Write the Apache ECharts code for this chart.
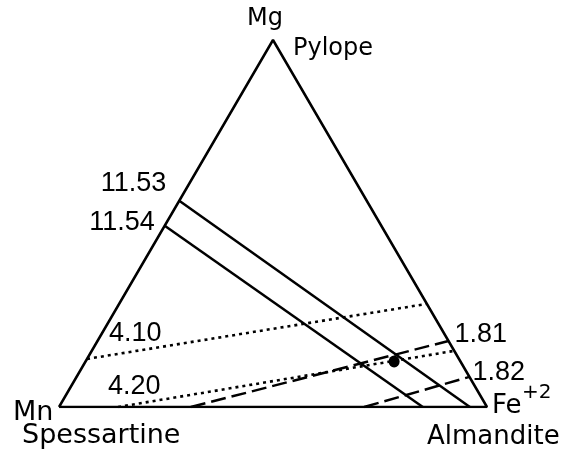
<!DOCTYPE html>
<html>
<head>
<meta charset="utf-8">
<script src="https://cdn.jsdelivr.net/npm/echarts@6/dist/echarts.min.js"></script>
<style>
  html, body { margin: 0; padding: 0; background: #fff; }
  #chart { width: 575px; height: 456px; }
</style>
</head>
<body>
<div id="chart"></div>
<script>
// Garnet end-member ternary diagram: Mg (pyrope) top, Mn (spessartine) left, Fe2+ (almandite) right.
// Compositions are stored as [Mg, Fe] mole fractions; Mn = 1 - Mg - Fe.
const vertexPoints = [[0, 0], [0, 1], [1, 0]];          // Mn, Fe, Mg corners
const solidValues = ['11.53', '11.54'];
const solidFrom = [[0.562, 0], [0.494, 0]];
const solidTo = [[0, 0.960], [0, 0.850]];
const dottedValues = ['4.10', '4.20'];
const dottedFrom = [[0.131, 0], [0, 0.138]];
const dottedTo = [[0.281, 0.719], [0.153, 0.847]];
const dashedValues = ['1.81', '1.82'];
const dashedFrom = [[0, 0.308], [0, 0.713]];
const dashedTo = [[0.180, 0.820], [0.082, 0.918]];
const samplePoint = [0.124, 0.721];

// ternary [Mg, Fe] -> cartesian [x, y] on a unit-base triangle
function toXY(p) { return [p[1] + p[0] / 2, p[0]]; }

const INK = '#000';
const NUM_FONT = '"Liberation Sans", sans-serif';
const TXT_FONT = '"DejaVu Sans", sans-serif';

const series = [];

// triangle outline
series.push({
  type: 'line', silent: true, symbol: 'none',
  lineStyle: { color: INK, width: 2.5 },
  data: [vertexPoints[0], vertexPoints[1], vertexPoints[2], vertexPoints[0]].map(toXY)
});

function addLines(from, to, style) {
  from.forEach((p, i) => {
    series.push({
      type: 'line', silent: true, symbol: 'none',
      lineStyle: Object.assign({ color: INK, width: 2.5 }, style),
      data: [toXY(p), toXY(to[i])]
    });
  });
}
addLines(solidFrom, solidTo, { type: 'solid' });
addLines(dottedFrom, dottedTo, { type: [3, 4], width: 2.6 });
addLines(dashedFrom, dashedTo, { type: [15, 6], width: 2.5 });

// value labels at the ends of the lines
const labelOffsets = {
  '11.53': { pos: [-13, -17], align: 'right' },
  '11.54': { pos: [-10, -3], align: 'right' },
  '4.10': { pos: [22, -25], align: 'left' },
  '4.20': { pos: [-10, -20], align: 'left' },
  '1.81': { pos: [6, -6], align: 'left' },
  '1.82': { pos: [3, -4], align: 'left' }
};
const labelData = [];
solidValues.forEach((v, i) => labelData.push({ v, p: solidFrom[i] }));
dottedValues.forEach((v, i) => labelData.push({ v, p: dottedFrom[i] }));
dashedValues.forEach((v, i) => labelData.push({ v, p: dashedTo[i] }));

series.push({
  type: 'scatter', silent: true, symbolSize: 0,
  itemStyle: { opacity: 1 },
  data: labelData.map(d => ({
    value: toXY(d.p),
    label: {
      show: true, formatter: d.v,
      position: labelOffsets[d.v].pos,
      align: labelOffsets[d.v].align,
      verticalAlign: 'middle',
      color: INK, fontFamily: NUM_FONT, fontSize: 27
    }
  }))
});

// analysed garnet composition
series.push({
  type: 'scatter', silent: true, symbol: 'circle', symbolSize: [11, 12],
  itemStyle: { color: INK, opacity: 1 },
  data: [toXY(samplePoint)]
});

function txt(text, x, y, size, align) {
  return {
    type: 'text', silent: true,
    style: {
      text, x, y, fill: INK,
      fontSize: size, fontFamily: TXT_FONT,
      textAlign: align || 'left', textVerticalAlign: 'middle'
    }
  };
}

const chart = echarts.init(document.getElementById('chart'), null, { renderer: 'canvas' });
chart.setOption({
  animation: false,
  backgroundColor: '#fff',
  grid: { left: 59, right: 88, top: 40, bottom: 49 },
  xAxis: { type: 'value', min: 0, max: 1, show: false },
  yAxis: { type: 'value', min: 0, max: 1, show: false },
  series,
  graphic: [
    txt('Mg', 265, 19, 24, 'center'),
    txt('Pylope', 293, 49, 24),
    txt('Mn', 13, 413, 27),
    txt('Spessartine', 22, 436, 27),
    txt('Fe', 492, 406, 26),
    txt('+2', 522, 393, 20),
    txt('Almandite', 427, 437, 26)
  ]
});
</script>
</body>
</html>
